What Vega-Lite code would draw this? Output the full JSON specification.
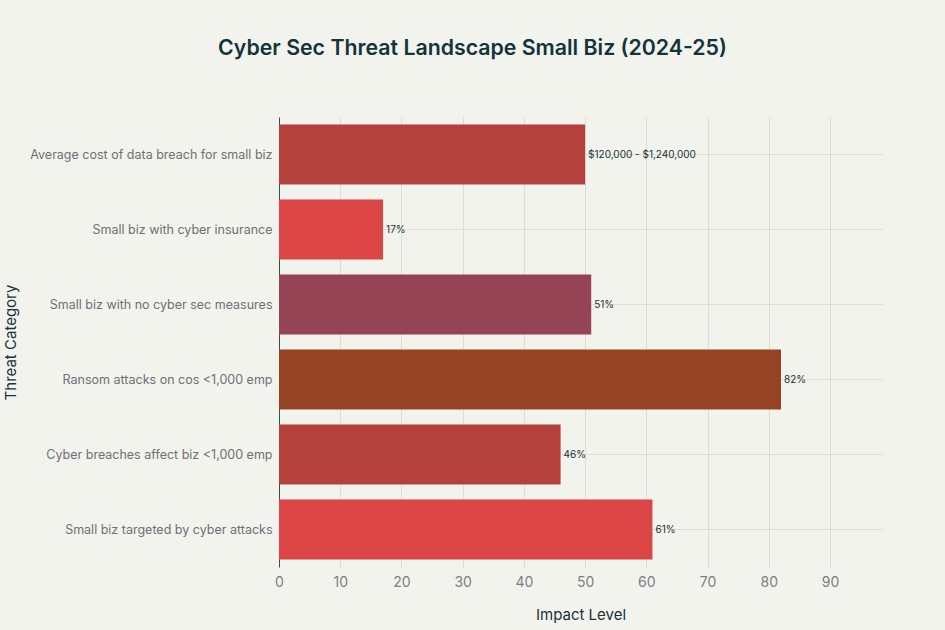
{
  "$schema": "https://vega.github.io/schema/vega-lite/v6.json",
  "autosize": {"type": "none"},
  "width": 603,
  "height": 450,
  "padding": {"left": 279, "top": 117, "right": 63, "bottom": 63},
  "background": "#F3F3EE",
  "title": {
    "text": "Cyber Sec Threat Landscape Small Biz (2024-25)",
    "anchor": "middle",
    "dx": -108,
    "offset": 58,
    "font": "Inter",
    "fontSize": 21.3,
    "fontWeight": 600,
    "color": "#13343B"
  },
  "data": {
    "values": [
      {"category": "Average cost of data breach for small biz", "value": 50, "label": "$120,000 - $1,240,000", "color": "#B4413C"},
      {"category": "Small biz with cyber insurance", "value": 17, "label": "17%", "color": "#DB4545"},
      {"category": "Small biz with no cyber sec measures", "value": 51, "label": "51%", "color": "#944454"},
      {"category": "Ransom attacks on cos <1,000 emp", "value": 82, "label": "82%", "color": "#964325"},
      {"category": "Cyber breaches affect biz <1,000 emp", "value": 46, "label": "46%", "color": "#B4413C"},
      {"category": "Small biz targeted by cyber attacks", "value": 61, "label": "61%", "color": "#DB4545"}
    ]
  },
  "encoding": {
    "y": {
      "field": "category",
      "type": "nominal",
      "sort": null,
      "title": "Threat Category",
      "scale": {"paddingInner": 0.2, "paddingOuter": 0.1},
      "axis": {
        "grid": true,
        "gridColor": "#DCDDD8",
        "bandPosition": 0.5,
        "ticks": false,
        "domain": true,
        "domainColor": "#3B4A4F",
        "labelFont": "Inter",
        "labelFontSize": 12.5,
        "labelColor": "#6B7174",
        "labelPadding": 7,
        "labelLimit": 0,
        "titleFont": "Inter",
        "titleFontSize": 15,
        "titleFontWeight": "normal",
        "titleColor": "#13343B",
        "titleX": -261,
        "titleY": 225,
        "titleBaseline": "bottom"
      }
    },
    "x": {
      "field": "value",
      "type": "quantitative",
      "title": "Impact Level",
      "scale": {"domain": [0, 98.5], "nice": false},
      "axis": {
        "values": [0, 10, 20, 30, 40, 50, 60, 70, 80, 90],
        "grid": true,
        "gridColor": "#DCDDD8",
        "domain": false,
        "ticks": false,
        "labelFlush": false,
        "labelFont": "Inter",
        "labelFontSize": 14,
        "labelColor": "#7A8184",
        "labelPadding": 8,
        "titleFont": "Inter",
        "titleFontSize": 15,
        "titleFontWeight": "normal",
        "titleColor": "#13343B",
        "titlePadding": 18
      }
    }
  },
  "layer": [
    {
      "mark": {"type": "bar"},
      "encoding": {
        "color": {"field": "color", "type": "nominal", "scale": null}
      }
    },
    {
      "mark": {"type": "text", "align": "left", "dx": 3, "font": "Inter", "fontSize": 10, "color": "#13343B"},
      "encoding": {"text": {"field": "label"}}
    }
  ],
  "config": {"view": {"stroke": null}}
}
